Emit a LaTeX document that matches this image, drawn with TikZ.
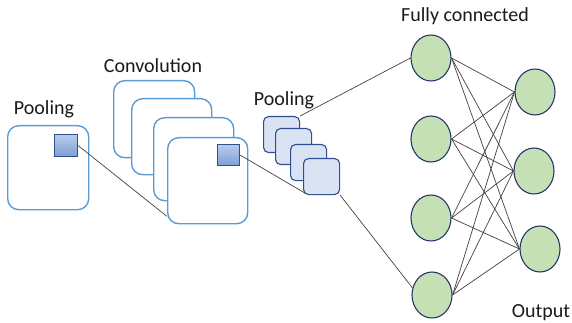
\documentclass[tikz,border=0pt]{standalone}
\usepackage{fontspec}
\setmainfont{Carlito}
\usetikzlibrary{shapes.geometric}
\definecolor{frameblue}{HTML}{5B9BD5}
\definecolor{navy}{HTML}{2F4F8F}
\definecolor{poolfill}{HTML}{DAE3F3}
\definecolor{kernTop}{HTML}{B8CCEB}
\definecolor{kernBot}{HTML}{7B9FD6}
\definecolor{neuron}{HTML}{C5E0B4}
\definecolor{neuronline}{HTML}{26386B}
\definecolor{wire}{HTML}{404040}
\definecolor{labeltext}{HTML}{1A1A1A}
\tikzset{
  fmap/.style={draw=frameblue, line width=1.4pt, fill=white, rounded corners=11pt,
    rectangle, inner sep=0pt, anchor=north west},
  kernel/.style={draw=navy, line width=1.1pt, top color=kernTop, bottom color=kernBot,
    rectangle, inner sep=0pt, anchor=north west},
  poolmap/.style={draw=navy, line width=1.1pt, fill=poolfill, rounded corners=5pt,
    rectangle, inner sep=0pt, anchor=north west, minimum width=36pt, minimum height=36pt},
  unit/.style={ellipse, draw=neuronline, line width=1.1pt, fill=neuron, inner sep=0pt,
    minimum width=40pt, minimum height=46pt},
  link/.style={draw=wire, line width=0.7pt},
  caption/.style={font=\fontsize{20}{24}\selectfont, text=labeltext, inner sep=0pt}
}
\begin{document}
\begin{tikzpicture}[x=1pt, y=-1pt]
\useasboundingbox (0,0) rectangle (572,323);

% input pooling map with its kernel window
\node[fmap, minimum width=81pt, minimum height=84pt] (pin) at (7,125) {};
\node[kernel, minimum width=23pt, minimum height=22pt] (ks1) at (54,134) {};
\node[caption] (lpool) at (44,109) {Pooling};

% stack of convolution maps
\node[fmap, minimum width=81pt, minimum height=77pt] (c1) at (113,80) {};
\node[fmap, minimum width=80pt, minimum height=76pt] (c2) at (131,98) {};
\node[fmap, minimum width=80pt, minimum height=83pt] (c3) at (153,117) {};
\node[fmap, minimum width=80pt, minimum height=86pt] (c4) at (167,137) {};
\node[kernel, minimum width=22pt, minimum height=21pt] (ks2) at (217,144) {};
\node[caption] (lconv) at (153,66) {Convolution};

% pooled maps
\node[poolmap] (p1) at (263,116) {};
\node[poolmap] (p2) at (275,128) {};
\node[poolmap] (p3) at (290,144) {};
\node[poolmap] (p4) at (303,158) {};
\node[caption] (lpool2) at (284,100) {Pooling};

% receptive-field lines
\draw[link] (ks1.east) -- ([yshift=8pt]c4.south west);
\draw[link] (ks2.east) -- ([shift={(2pt,2pt)}]p4.south west);

% fully connected layer
\node[unit] (f1) at (431,58) {};
\node[unit] (f2) at (431,139) {};
\node[unit] (f3) at (431,218) {};
\node[unit] (f4) at (432,295) {};
\node[caption] (lfc) at (465,16) {Fully connected};

% output layer
\node[unit] (o1) at (535,92) {};
\node[unit] (o2) at (534,171) {};
\node[unit] (o3) at (540,249) {};
\node[caption] (lout) at (541,313) {Output};

% pooled maps into the dense layer
\draw[link] (p1.north east) -- (f1.west);
\draw[link] (p4.south east) -- (f4.160);

% dense connections
\foreach \a in {f1,f2,f3,f4}
  \foreach \b in {o1,o2,o3}
    \draw[link] (\a.east) -- (\b.west);
\end{tikzpicture}
\end{document}
